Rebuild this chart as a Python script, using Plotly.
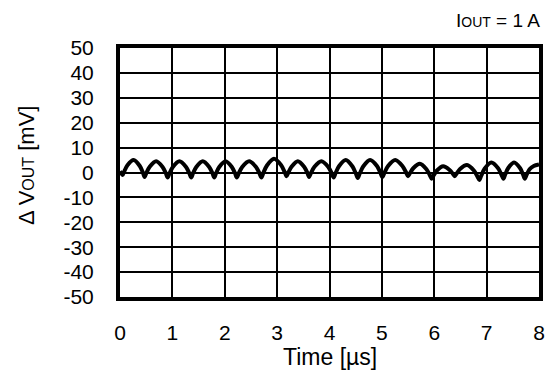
import plotly.graph_objects as go

# Time [µs]
time_us = [
    0.00, 0.05,
    0.084, 0.142, 0.26, 0.378, 0.436, 0.47,
    0.505, 0.567, 0.69, 0.813, 0.875, 0.91,
    0.946, 1.009, 1.135, 1.261, 1.324, 1.36,
    1.395, 1.457, 1.58, 1.703, 1.765, 1.80,
    1.834, 1.895, 2.015, 2.135, 2.196, 2.23,
    2.268, 2.333, 2.465, 2.597, 2.662, 2.70,
    2.738, 2.806, 2.94, 3.074, 3.142, 3.18,
    3.214, 3.275, 3.395, 3.515, 3.576, 3.61,
    3.648, 3.713, 3.845, 3.977, 4.042, 4.08,
    4.117, 4.181, 4.31, 4.439, 4.503, 4.54,
    4.578, 4.643, 4.775, 4.907, 4.972, 5.01,
    5.049, 5.118, 5.255, 5.392, 5.461, 5.50,
    5.536, 5.599, 5.725, 5.851, 5.914, 5.95,
    5.985, 6.047, 6.17, 6.293, 6.355, 6.39,
    6.428, 6.493, 6.625, 6.757, 6.822, 6.86,
    6.897, 6.961, 7.09, 7.219, 7.283, 7.32,
    7.353, 7.41, 7.525, 7.64, 7.697, 7.73,
    7.765, 7.82, 7.9, 8.00,
]

# ΔVOUT [mV]
dvout_mv = [
    0.5, -1.0,
    0.6, 2.9, 5.0, 2.6, 0.0, -1.8,
    -0.1, 2.3, 4.5, 2.2, -0.3, -2.0,
    -0.3, 2.2, 4.5, 2.2, -0.3, -2.0,
    -0.3, 2.2, 4.5, 2.2, -0.3, -2.0,
    -0.3, 2.2, 4.5, 2.2, -0.3, -2.0,
    -0.3, 2.2, 4.5, 2.2, -0.3, -2.0,
    -0.1, 2.8, 5.5, 3.0, 0.3, -1.5,
    0.0, 2.3, 4.5, 2.3, -0.1, -1.8,
    -0.1, 2.3, 4.5, 2.2, -0.3, -2.0,
    -0.2, 2.5, 5.0, 2.4, -0.4, -2.2,
    -0.4, 2.4, 5.0, 2.6, -0.1, -1.8,
    -0.1, 2.6, 5.0, 2.6, 0.1, -1.5,
    -0.3, 1.7, 3.5, 1.3, -1.0, -2.5,
    -1.3, 0.7, 2.5, 1.0, -0.5, -1.5,
    -0.4, 1.4, 3.0, 0.8, -1.5, -3.0,
    -1.3, 1.5, 4.0, 1.7, -0.9, -2.5,
    -0.9, 1.7, 4.0, 1.7, -0.9, -2.5,
    -0.9, 1.3, 2.6, 3.2,
]

x_ticks = [0, 1, 2, 3, 4, 5, 6, 7, 8]
y_ticks = [50, 40, 30, 20, 10, 0, -10, -20, -30, -40, -50]

FONT = "Arial, Liberation Sans, sans-serif"

fig = go.Figure()
fig.add_trace(go.Scatter(
    x=time_us, y=dvout_mv, mode="lines",
    line=dict(color="black", width=4, shape="spline", smoothing=0.8),
    showlegend=False, hoverinfo="skip",
))

fig.update_layout(
    width=557, height=378,
    margin=dict(l=120, r=14, t=48, b=81),
    paper_bgcolor="white", plot_bgcolor="white",
    font=dict(family=FONT, size=21, color="black"),
    xaxis=dict(
        range=[0, 8], tickvals=x_ticks, ticktext=[str(v) for v in x_ticks],
        showgrid=True, gridcolor="black", gridwidth=1.5,
        showline=True, linecolor="black", linewidth=4, mirror=True,
        ticks="outside", ticklen=14, tickcolor="rgba(0,0,0,0)",
        zeroline=False, tickfont=dict(size=21),
    ),
    yaxis=dict(
        range=[-50, 50], tickvals=y_ticks, ticktext=[str(v) for v in y_ticks],
        showgrid=True, gridcolor="black", gridwidth=1.5,
        showline=True, linecolor="black", linewidth=4, mirror=True,
        ticks="outside", ticklen=18, tickcolor="rgba(0,0,0,0)",
        zeroline=False, tickfont=dict(size=21),
    ),
    annotations=[
        dict(text="Time [µs]", xref="paper", yref="paper",
             x=0.5, y=-0.24, xanchor="center", yanchor="middle",
             showarrow=False, font=dict(size=23)),
        dict(text="Δ V<span style='font-size:16px'>OUT</span> [mV]",
             xref="paper", yref="paper", x=-0.2246, y=0.53,
             xanchor="center", yanchor="middle", textangle=-90,
             showarrow=False, font=dict(size=22)),
        dict(text="I<span style='font-size:14px'>OUT</span> = 1 A",
             xref="paper", yref="paper", x=1.008, y=1.11,
             xanchor="right", yanchor="middle",
             showarrow=False, font=dict(size=19)),
    ],
)

fig.write_html(
    "out.html",
    config={"displayModeBar": False},
    post_script="document.body.style.margin='0px';",
)
